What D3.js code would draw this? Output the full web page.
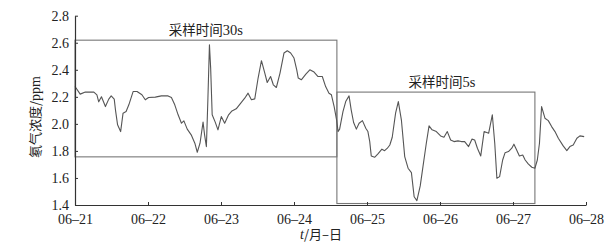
<!DOCTYPE html>
<html lang="zh">
<head>
<meta charset="UTF-8">
<title>氡气浓度</title>
<script src="https://d3js.org/d3.v7.min.js"></script>
<style>
  body { margin: 0; background: #fff; }
  svg { display: block; }
</style>
</head>
<body>
<svg id="chart" width="610" height="247"></svg>
<script>
// hours since 06-21 00:00 and radon concentration (ppm)
const hours = [0, 1.7, 3.4, 6.2, 7.2, 7.8, 8.7, 10.0, 11.1, 11.9, 12.9, 13.3, 14.0, 15.0, 15.8, 16.8, 17.7, 19.1, 20.4, 22.0,
  23.1, 24.2, 26.4, 28.4, 30.6, 31.7, 32.8, 33.9, 35.0, 35.8, 36.9, 38.2, 39.4, 40.2, 41.1, 42.1, 42.6, 43.2, 43.7, 44.2,
  44.6, 45.1, 46.1, 47.0, 48.1, 49.2, 50.5, 51.6, 53.0, 54.5, 55.8, 56.9, 58.0, 59.1, 60.2, 61.3, 62.4, 63.2, 64.3, 65.2,
  66.2, 67.4, 68.7, 69.8, 70.9, 72.0, 72.9, 73.4, 74.4, 75.9, 77.2, 78.6, 79.9, 81.3, 82.4, 83.5, 84.3, 85.2, 86.0, 86.5,
  87.0, 88.1, 89.0, 90.1, 90.8, 91.6, 92.5, 93.4, 94.5, 95.6, 96.3, 96.9, 97.4, 98.5, 99.6, 100.9, 101.8, 102.7, 103.5, 104.3,
  105.4, 106.3, 107.3, 108.4, 109.5, 110.6, 111.5, 112.4, 113.5, 114.4, 115.5, 116.4, 117.4, 118.8, 120.2, 121.3, 122.4, 123.5, 124.6, 125.9,
  127.0, 128.1, 129.4, 130.5, 131.4, 132.3, 133.4, 134.5, 136.0, 137.2, 138.0, 138.7, 139.6, 140.6, 141.4, 142.5, 143.6, 144.3, 145.2, 146.1,
  147.2, 148.0, 149.0, 150.2, 151.2, 152.0, 152.7, 153.4, 154.5, 155.6, 156.7, 157.8, 158.9, 160.5, 161.7, 162.7, 163.8, 165.0, 166.0, 167.4];
const radon = [2.276, 2.220, 2.235, 2.235, 2.215, 2.163, 2.200, 2.128, 2.183, 2.207, 2.183, 2.104, 1.993, 1.943, 2.079, 2.091, 2.141, 2.239, 2.239, 2.215,
  2.178, 2.195, 2.198, 2.207, 2.207, 2.195, 2.141, 2.067, 2.005, 2.022, 1.961, 1.919, 1.857, 1.790, 1.857, 2.013, 1.919, 1.832, 2.190, 2.585,
  2.413, 2.067, 2.013, 1.956, 2.054, 2.005, 2.067, 2.096, 2.111, 2.153, 2.190, 2.227, 2.178, 2.185, 2.339, 2.467, 2.376, 2.306, 2.350, 2.289,
  2.269, 2.376, 2.524, 2.541, 2.524, 2.487, 2.400, 2.339, 2.326, 2.368, 2.400, 2.383, 2.350, 2.350, 2.276, 2.227, 2.215, 2.128, 2.030, 1.943,
  1.961, 2.091, 2.165, 2.207, 2.104, 2.010, 1.961, 2.005, 2.024, 1.968, 1.943, 1.869, 1.763, 1.753, 1.778, 1.813, 1.802, 1.820, 1.844, 1.901,
  2.079, 2.165, 2.030, 1.758, 1.672, 1.639, 1.461, 1.432, 1.541, 1.684, 1.857, 1.985, 1.956, 1.943, 1.911, 1.901, 1.943, 1.881, 1.869, 1.874,
  1.869, 1.869, 1.832, 1.887, 1.881, 1.820, 1.763, 1.943, 1.931, 2.067, 1.857, 1.598, 1.610, 1.733, 1.787, 1.795, 1.820, 1.850, 1.807, 1.763,
  1.770, 1.733, 1.704, 1.679, 1.672, 1.733, 1.857, 2.128, 2.042, 2.024, 1.980, 1.943, 1.894, 1.837, 1.802, 1.832, 1.844, 1.894, 1.911, 1.906];

const dayLabels = ["06–21", "06–22", "06–23", "06–24", "06–25", "06–26", "06–27", "06–28"];
const yTicks = [1.4, 1.6, 1.8, 2.0, 2.2, 2.4, 2.6, 2.8];

// sampling windows: [start hour, end hour, low ppm, high ppm]
const windowNames = ["采样时间30s", "采样时间5s"];
const windowStart = [0, 86.1];
const windowEnd = [86.1, 151.2];
const windowLow = [1.756, 1.411];
const windowHigh = [2.619, 2.235];

const svg = d3.select('#chart');
const margin = { top: 15.7, right: 24, bottom: 42, left: 75 };
const width = 610, height = 247;
const serif = "'Liberation Serif', 'Times New Roman', Times, serif";
const cjk = "'Noto Sans CJK SC', sans-serif";

const x = d3.scaleLinear().domain([0, 168]).range([margin.left, width - margin.right]);
const y = d3.scaleLinear().domain([1.4, 2.8]).range([height - margin.bottom, margin.top]);

// sampling boxes
windowNames.forEach((name, i) => {
  const x0 = x(windowStart[i]), x1 = x(windowEnd[i]);
  const y0 = y(windowHigh[i]), y1 = y(windowLow[i]);
  svg.append('rect')
    .attr('x', x0).attr('y', y0)
    .attr('width', x1 - x0).attr('height', y1 - y0)
    .attr('fill', 'none').attr('stroke', '#777').attr('stroke-width', 1.1);
  const t = svg.append('text')
    .attr('x', (x0 + x1) / 2 + (i === 1 ? 6 : 0))
    .attr('y', y0 - 5)
    .attr('text-anchor', 'middle')
    .style('font-family', cjk)
    .style('font-size', '13.5px')
    .style('fill', '#222');
  // chinese part and latin part
  const m = name.match(/^(\D+)(.*)$/);
  t.append('tspan').text(m[1]);
  t.append('tspan').style('font-family', serif).style('font-size', '14.5px').text(m[2]);
});

// data line
const line = d3.line().x((d, i) => x(hours[i])).y(d => y(d));
svg.append('path')
  .datum(radon)
  .attr('d', line)
  .attr('fill', 'none')
  .attr('stroke', '#555')
  .attr('stroke-width', 1.1)
  .attr('stroke-linejoin', 'round');

// axes
const xAxis = d3.axisBottom(x)
  .tickValues(dayLabels.map((d, i) => i * 24))
  .tickFormat((d, i) => dayLabels[i])
  .tickSizeInner(-3).tickSizeOuter(0).tickPadding(9);
const gx = svg.append('g')
  .attr('transform', `translate(0,${height - margin.bottom})`)
  .call(xAxis);

const yAxis = d3.axisLeft(y)
  .tickValues(yTicks)
  .tickFormat(d3.format('.1f'))
  .tickSizeInner(-3).tickSizeOuter(0).tickPadding(6);
const gy = svg.append('g')
  .attr('transform', `translate(${margin.left},0)`)
  .call(yAxis);

[gx, gy].forEach(g => {
  g.attr('font-family', null).attr('font-size', null);
  g.selectAll('.tick text')
    .style('font-family', serif)
    .style('font-size', '14px')
    .style('fill', '#222');
  g.select('.domain').attr('stroke', '#333').attr('stroke-width', 1.2);
  g.selectAll('.tick line').attr('stroke', '#333');
});

// axis titles
const yt = svg.append('text')
  .attr('transform', 'translate(40,117) rotate(-90)')
  .attr('text-anchor', 'middle')
  .style('font-family', cjk)
  .style('font-size', '13px')
  .style('fill', '#222');
yt.append('tspan').text('氡气浓度/');
yt.append('tspan').style('font-family', serif).style('font-size', '14px').text('ppm');

const xt = svg.append('text')
  .attr('x', 321).attr('y', 239)
  .attr('text-anchor', 'middle')
  .style('font-family', cjk)
  .style('font-size', '13px')
  .style('fill', '#222');
xt.append('tspan').style('font-family', serif).style('font-style', 'italic').style('font-size', '14px').text('t');
xt.append('tspan').text('/月–日');
</script>
</body>
</html>
